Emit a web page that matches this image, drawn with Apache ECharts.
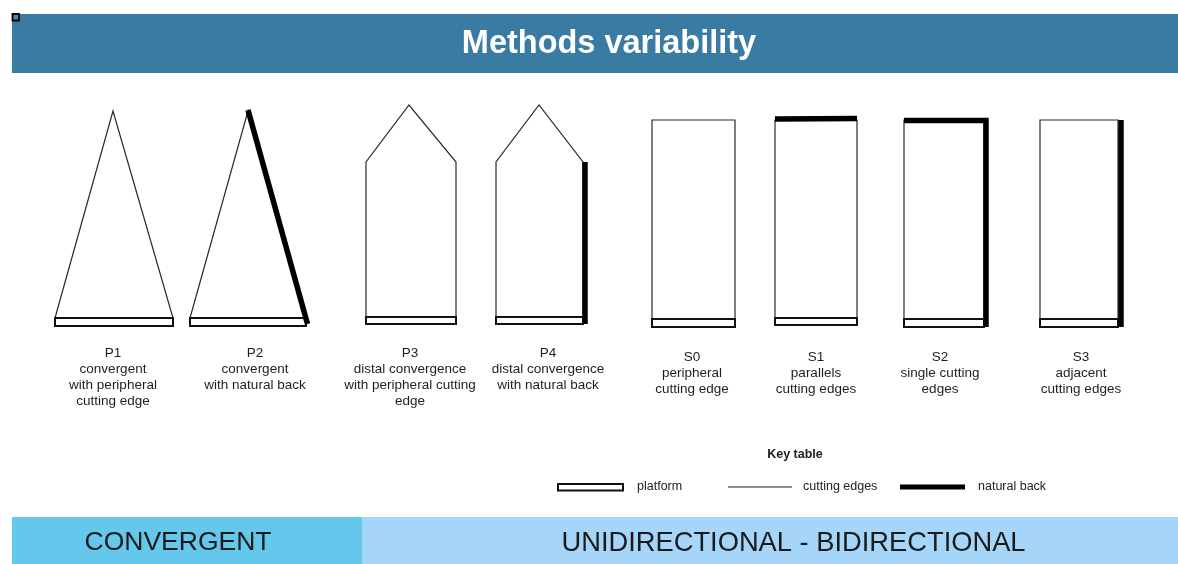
<!DOCTYPE html>
<html>
<head>
<meta charset="utf-8">
<script src="https://cdn.jsdelivr.net/npm/echarts@6/dist/echarts.min.js"></script>
<style>
html,body{margin:0;padding:0;background:#fff;}
#chart{width:1178px;height:564px;}
</style>
</head>
<body>
<div id="chart"></div>
<script>
// ---- Data (diagram units = page pixels on a hidden 0..1178 x 0..564 axis) ----
const shapeIds = ['P1', 'P2', 'P3', 'P4', 'S0', 'S1', 'S2', 'S3'];

// cutting-edge outlines (polygon vertices)
const outlines = [
  [[113, 111], [55, 318], [173, 318]],
  [[248, 111], [190, 318], [306, 318]],
  [[366, 324], [366, 162], [409, 105], [456, 162], [456, 324]],
  [[496, 324], [496, 162], [539, 105], [583, 162], [583, 324]],
  [[652, 327], [652, 120], [735, 120], [735, 327]],
  [[775, 325], [775, 120], [857, 120], [857, 325]],
  [[904, 327], [904, 120], [984, 120], [984, 327]],
  [[1040, 327], [1040, 120], [1118, 120], [1118, 327]]
];

// platforms [x0, y0, x1, y1]
const platforms = [
  [55, 318, 173, 326],
  [190, 318, 306, 326],
  [366, 317, 456, 324],
  [496, 317, 583, 324],
  [652, 319, 735, 327],
  [775, 318, 857, 325],
  [904, 319, 984, 327],
  [1040, 319, 1118, 327]
];

// natural backs (polylines)
const naturalBacks = [
  null,
  [[248, 110], [307.5, 324]],
  null,
  [[585, 162], [585, 324]],
  null,
  [[775, 119], [857, 118.5]],
  [[904, 120.5], [986, 120.5], [986, 327]],
  [[1121, 120], [1121, 327]]
];

const labelLines = [
  ['P1', 'convergent', 'with peripheral', 'cutting edge'],
  ['P2', 'convergent', 'with natural back'],
  ['P3', 'distal convergence', 'with peripheral cutting', 'edge'],
  ['P4', 'distal convergence', 'with natural back'],
  ['S0', 'peripheral', 'cutting edge'],
  ['S1', 'parallels', 'cutting edges'],
  ['S2', 'single cutting', 'edges'],
  ['S3', 'adjacent', 'cutting edges']
];
const labelAnchors = [
  [113, 353], [255, 353], [410, 353], [548, 353],
  [692, 357], [816, 357], [940, 357], [1081, 357]
];

// key table
const keyNames = ['platform', 'cutting edges', 'natural back'];
const keySamples = [[558, 623], [728, 792], [900, 965]];
const keyTextX = [637, 803, 978];
const keyY = 487;

const title = 'Methods variability';
const bandNames = ['CONVERGENT', 'UNIDIRECTIONAL - BIDIRECTIONAL'];

// ---- Chart ----
const chart = echarts.init(document.getElementById('chart'), null, {renderer: 'canvas'});
const FONT = '"Liberation Sans", Arial, Helvetica, sans-serif';

function pts(api, list) { return list.map(p => api.coord(p)); }

const shapeData = shapeIds.map((id, i) => [i]);

const option = {
  animation: false,
  backgroundColor: '#ffffff',
  grid: {left: 0, right: 0, top: 0, bottom: 0},
  xAxis: {type: 'value', min: 0, max: 1178, show: false},
  yAxis: {type: 'value', min: 0, max: 564, inverse: true, show: false},
  graphic: [
    {type: 'rect', shape: {x: 12, y: 14, width: 1166, height: 59}, style: {fill: '#3a7ba4'}, z: 0},
    {type: 'rect', shape: {x: 12.5, y: 14, width: 6.5, height: 6.5}, style: {fill: '#4a86ad', stroke: '#000', lineWidth: 1.8}, z: 1},
    {type: 'text', x: 609, y: 44.5, style: {text: title, fill: '#ffffff', font: 'bold 32.5px ' + FONT, align: 'center', verticalAlign: 'middle'}, z: 1},
    {type: 'rect', shape: {x: 12, y: 517, width: 350, height: 47}, style: {fill: '#63c8ec'}, z: 0},
    {type: 'rect', shape: {x: 362, y: 517, width: 816, height: 47}, style: {fill: '#a5d6fa'}, z: 0},
    {type: 'text', x: 178, y: 543, style: {text: bandNames[0], fill: '#1a1a1a', font: '26.5px ' + FONT, align: 'center', verticalAlign: 'middle'}, z: 1},
    {type: 'text', x: 793.5, y: 543, style: {text: bandNames[1], fill: '#1a1a1a', font: '27.3px ' + FONT, align: 'center', verticalAlign: 'middle'}, z: 1},
    {type: 'text', x: 795, y: 454.5, style: {text: 'Key table', fill: '#222', font: 'bold 12.5px ' + FONT, align: 'center', verticalAlign: 'middle'}, z: 1}
  ],
  series: [
    {
      type: 'custom',
      name: 'shapes',
      coordinateSystem: 'cartesian2d',
      data: shapeData,
      encode: {x: 0},
      renderItem: function (params, api) {
        const i = params.dataIndex;
        const children = [];
        children.push({
          type: 'polygon',
          shape: {points: pts(api, outlines[i])},
          style: {fill: '#ffffff', stroke: '#2a2a2a', lineWidth: 1.2}
        });
        const pf = platforms[i];
        const a = api.coord([pf[0], pf[1]]);
        const b = api.coord([pf[2], pf[3]]);
        children.push({
          type: 'rect',
          shape: {x: a[0], y: a[1], width: b[0] - a[0], height: b[1] - a[1]},
          style: {fill: '#ffffff', stroke: '#111', lineWidth: 2}
        });
        if (naturalBacks[i]) {
          children.push({
            type: 'polyline',
            shape: {points: pts(api, naturalBacks[i])},
            style: {fill: null, stroke: '#000', lineWidth: 5.5, lineJoin: 'miter'}
          });
        }
        const anc = labelAnchors[i];
        labelLines[i].forEach((t, k) => {
          const p = api.coord([anc[0], anc[1] + k * 16]);
          children.push({
            type: 'text',
            style: {text: t, x: p[0], y: p[1], fill: '#1e1e1e', font: '13.5px ' + FONT, align: 'center', verticalAlign: 'middle'}
          });
        });
        return {type: 'group', children: children};
      }
    },
    {
      type: 'custom',
      name: 'key',
      coordinateSystem: 'cartesian2d',
      data: keyNames.map((n, i) => [i]),
      encode: {x: 0},
      renderItem: function (params, api) {
        const i = params.dataIndex;
        const s = keySamples[i];
        const children = [];
        const p0 = api.coord([s[0], keyY]);
        const p1 = api.coord([s[1], keyY]);
        if (i === 0) {
          const a = api.coord([s[0], keyY - 3]);
          const b = api.coord([s[1], keyY + 3.5]);
          children.push({type: 'rect', shape: {x: a[0], y: a[1], width: b[0] - a[0], height: b[1] - a[1]}, style: {fill: '#fff', stroke: '#111', lineWidth: 2}});
        } else if (i === 1) {
          children.push({type: 'line', shape: {x1: p0[0], y1: p0[1], x2: p1[0], y2: p1[1]}, style: {stroke: '#666', lineWidth: 1.3}});
        } else {
          children.push({type: 'line', shape: {x1: p0[0], y1: p0[1], x2: p1[0], y2: p1[1]}, style: {stroke: '#000', lineWidth: 5}});
        }
        const tp = api.coord([keyTextX[i], keyY - 0.5]);
        children.push({type: 'text', style: {text: keyNames[i], x: tp[0], y: tp[1], fill: '#222', font: '12.5px ' + FONT, align: 'left', verticalAlign: 'middle'}});
        return {type: 'group', children: children};
      }
    }
  ]
};
chart.setOption(option);
</script>
</body>
</html>
